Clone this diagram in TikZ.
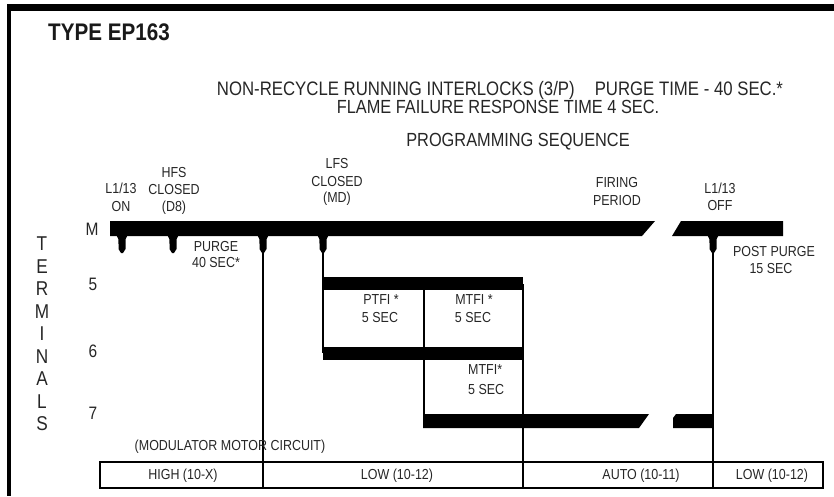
\documentclass[tikz,border=0pt]{standalone}
\usepackage{fontspec}
\setmainfont{Liberation Sans}[FakeStretch=0.86]
\newcommand{\fsz}[1]{\fontsize{#1}{#1}\selectfont}
\begin{document}
\begin{tikzpicture}[x=1pt,y=-1pt,
  lbl/.style={font=\fsz{14.5}, anchor=base, inner sep=0pt, text=black!85},
  lblw/.style={lbl, anchor=base west},
  head/.style={font=\fsz{19}, anchor=base, inner sep=0pt, text=black!85},
  term/.style={font=\fsz{20}, anchor=base, inner sep=0pt, text=black!85},
  num/.style={font=\fsz{18}, anchor=base, inner sep=0pt, text=black!85},
  wire/.style={line width=1.6pt},
  tap/.pic={\fill (-5.5,-0.5) .. controls (-3.5,1) and (-3.5,4) .. (-3.5,8) -- (-3.5,13) -- (-1,17) -- (1,17) -- (3.5,13) -- (3.5,8) .. controls (3.5,4) and (3.5,1) .. (5.5,-0.5) -- cycle;}
]
\useasboundingbox (0,0) rectangle (834,496);
% frame
\fill (7,4) rectangle (834,10.5);
\fill (7,4) rectangle (11,496);
% headings
\node[font=\bfseries\fsz{24}, anchor=base west, inner sep=0pt, text=black!90] (title) at (48,40) {TYPE EP163};
\node[head, font=\fsz{19.5}] (h1) at (500,95) {NON-RECYCLE RUNNING INTERLOCKS (3/P)\hspace{20pt}PURGE TIME - 40 SEC.*};
\node[head] (h2) at (498,113) {FLAME FAILURE RESPONSE TIME 4 SEC.};
\node[head] (h3) at (518,146) {PROGRAMMING SEQUENCE};
% TERMINALS
\node[term] (t1) at (42,250) {T};
\node[term] (t2) at (42,273) {E};
\node[term] (t3) at (42,295) {R};
\node[term] (t4) at (42,318) {M};
\node[term] (t5) at (42,340) {I};
\node[term] (t6) at (42,363) {N};
\node[term] (t7) at (42,385) {A};
\node[term] (t8) at (42,408) {L};
\node[term] (t9) at (42,430) {S};
\node[num] (nM) at (92,235) {M};
\node[num] (n5) at (93,290) {5};
\node[num] (n6) at (93,357) {6};
\node[num] (n7) at (93,419) {7};
% labels above M
\node[lbl] (on1) at (121,193) {L1/13};
\node[lbl] (on2) at (121,211) {ON};
\node[lbl] (hfs1) at (174,177) {HFS};
\node[lbl] (hfs2) at (174,194) {CLOSED};
\node[lbl] (hfs3) at (174,211) {(D8)};
\node[lbl] (lfs1) at (337,168) {LFS};
\node[lbl] (lfs2) at (337,186) {CLOSED};
\node[lbl] (lfs3) at (337,202) {(MD)};
\node[lbl] (fp1) at (617,187) {FIRING};
\node[lbl] (fp2) at (617,205) {PERIOD};
\node[lbl] (off1) at (720,193) {L1/13};
\node[lbl] (off2) at (720,210) {OFF};
% M bar
\fill (110,221) -- (655,221) -- (642,236) -- (110,236) -- cycle;
\fill (681,221) -- (783,221) -- (783,236) -- (672,236) -- cycle;
\pic at (122,236) {tap};
\pic at (173,236) {tap};
\pic at (263,236) {tap};
\pic at (323,236) {tap};
\pic at (713,236) {tap};
% vertical lines
\draw[wire] (263,250) -- (263,488);
\draw[wire] (323,250) -- (323,353);
\draw[wire] (424,284) -- (424,420);
\draw[wire] (523,284) -- (523,488);
\draw[wire] (713,250) -- (713,488);
% terminal bars
\fill (323,277) rectangle (523,290);
\fill (323,347) rectangle (523,360);
\fill (423,414) -- (649,414) -- (639,428) -- (423,428) -- cycle;
\fill (676,414) -- (713.8,414) -- (713.8,428) -- (673,428) -- (673,418) -- cycle;
% chart labels
\node[lbl] (pg1) at (216,251) {PURGE};
\node[lbl] (pg2) at (216,267) {40 SEC*};
\node[lbl] (pp1) at (774,256) {POST PURGE};
\node[lbl] (pp2) at (771,273) {15 SEC};
\node[lbl] (pt1) at (381,304) {PTFI *};
\node[lbl] (pt2) at (380,322) {5 SEC};
\node[lbl] (mt1) at (474,304) {MTFI *};
\node[lbl] (mt2) at (473,322) {5 SEC};
\node[lblw] (mb1) at (468,374) {MTFI*};
\node[lblw] (mb2) at (468,394) {5 SEC};
% modulator
\node[lbl] (mod) at (230,450) {(MODULATOR MOTOR CIRCUIT)};
\draw[line width=1.5pt] (100,462) rectangle (823,488);
\node[lbl] (b1) at (183,479) {HIGH (10-X)};
\node[lbl] (b2) at (397,479) {LOW (10-12)};
\node[lbl] (b3) at (641,479) {AUTO (10-11)};
\node[lbl] (b4) at (772,479) {LOW (10-12)};
\end{tikzpicture}
\end{document}
